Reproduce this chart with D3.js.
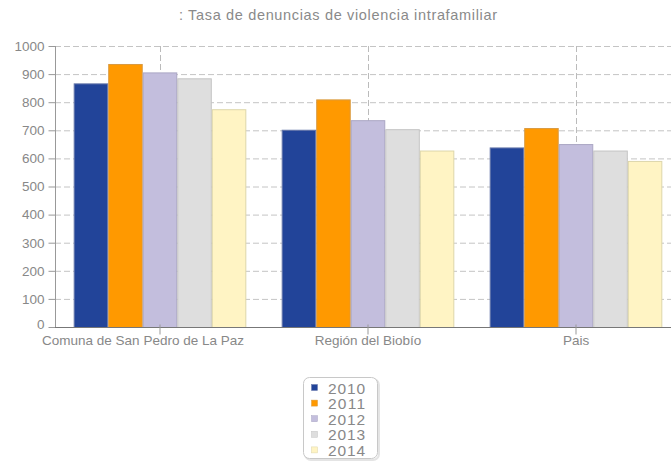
<!DOCTYPE html>
<html><head><meta charset="utf-8">
<script src="https://cdn.jsdelivr.net/npm/d3@7"></script>
<style>
body{margin:0;background:#fff;}
svg{display:block;font-family:"Liberation Sans",Arial,sans-serif;}
</style></head>
<body><svg id="c" width="671" height="461"></svg>
<script>
const title = ": Tasa de denuncias de violencia intrafamiliar";
const categories = ["Comuna de San Pedro de La Paz", "Región del Biobío", "Pais"];
const years = ["2010", "2011", "2012", "2013", "2014"];
const v2010 = [867, 702, 639];
const v2011 = [936, 810, 708];
const v2012 = [906, 736, 651];
const v2013 = [885, 704, 628];
const v2014 = [775, 628, 591];
const yTicks = [0,100,200,300,400,500,600,700,800,900,1000];
const colors = ["#224499", "#ff9900", "#c3bedd", "#dedede", "#fff4c4"];
const strokes = ["#6677aa", "#d99a40", "#aaa6c4", "#c4c4c4", "#ddd6aa"];

const series = [v2010, v2011, v2012, v2013, v2014];
const svg = d3.select("#c");
const y = d3.scaleLinear().domain([0,1000]).range([327,46]);
const x0 = d3.scaleBand().domain(categories).range([56,680]).paddingInner(0.17).paddingOuter(0.085);
const x1 = d3.scaleBand().domain(years).range([0, x0.bandwidth()]);
const xLeft = 55, xRight = 680;

// title
svg.append("text").attr("x",338).attr("y",20).attr("text-anchor","middle")
  .attr("font-size",14.5).attr("fill","#8a8a8a")
  .attr("textLength",318).attr("lengthAdjust","spacing").text(title);

// horizontal grid
svg.append("g").selectAll("line").data(yTicks.filter(d=>d>0)).join("line")
  .attr("x1",xLeft).attr("x2",xRight).attr("y1",d=>y(d)+0.5).attr("y2",d=>y(d)+0.5)
  .attr("stroke","#c4c4c4").attr("stroke-dasharray","6,3");
// vertical grid at category centers
svg.append("g").selectAll("line").data(categories).join("line")
  .attr("x1",d=>Math.round(x0(d)+x0.bandwidth()/2)+0.5).attr("x2",d=>Math.round(x0(d)+x0.bandwidth()/2)+0.5)
  .attr("y1",y(1000)).attr("y2",y(0))
  .attr("stroke","#bbb").attr("stroke-dasharray","6,3");

// bars
const g = svg.append("g");
categories.forEach((c,ci)=>{
  years.forEach((yr,si)=>{
    const v = series[si][ci];
    g.append("rect")
      .attr("x", x0(c)+x1(yr)+0.5).attr("y", y(v)+0.5)
      .attr("width", x1.bandwidth()-1).attr("height", y(0)-y(v))
      .attr("fill", colors[si]).attr("stroke", strokes[si]).attr("stroke-width",1);
  });
});

// y axis
const ya = svg.append("g").attr("transform",`translate(${xLeft+0.5},0)`)
  .call(d3.axisLeft(y).tickValues(yTicks).tickSize(7).tickPadding(4).tickFormat(d3.format("d")));
ya.select(".domain").attr("stroke","#999").attr("d",`M0,${y(1000)}V${y(0)}`);
ya.selectAll(".tick line").attr("stroke","#999");
ya.selectAll(".tick text").attr("fill","#888").attr("font-size",13.5).attr("font-family","Liberation Sans, Arial, sans-serif")
  .attr("dy",(d)=> d===0 ? "0.1em" : "0.32em");

// x axis
const xa = svg.append("g").attr("transform",`translate(0,${y(0)+0.5})`)
  .call(d3.axisBottom(x0).tickSize(7).tickPadding(3));
xa.select(".domain").attr("stroke","#777").attr("d",`M${xLeft},0H${xRight}`);
xa.selectAll(".tick line").attr("stroke","#999").attr("y1",-3);
xa.selectAll(".tick text").attr("fill","#888").attr("font-size",13.5).attr("font-family","Liberation Sans, Arial, sans-serif")
  .attr("dy","0.55em")
  .attr("dx",(d,i)=> i===0 ? -17 : 0);

// legend
const lg = svg.append("g").attr("transform","translate(303,377)");
lg.append("rect").attr("x",2).attr("y",2).attr("width",74).attr("height",81).attr("rx",6)
  .attr("fill","none").attr("stroke","#e4e4e4").attr("stroke-width",2);
lg.append("rect").attr("x",0.5).attr("y",0.5).attr("width",74).attr("height",81).attr("rx",6)
  .attr("fill","#fff").attr("stroke","#c8c8c8");
years.forEach((yr,i)=>{
  const cy = 11 + i*15.6;
  lg.append("rect").attr("x",8.5).attr("y",cy-3.5).attr("width",6).attr("height",6)
    .attr("fill",colors[i]).attr("stroke",strokes[i]).attr("stroke-width",0.5);
  lg.append("text").attr("x",25).attr("y",cy).attr("dy","0.36em")
    .attr("font-size",15.5).attr("textLength",37).attr("lengthAdjust","spacing")
    .attr("fill","#888").text(yr);
});
</script></body></html>
